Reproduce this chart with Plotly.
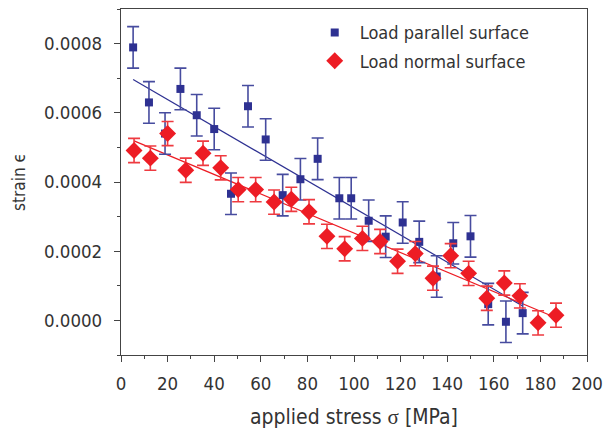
import numpy as np
import plotly.graph_objects as go

# Load parallel surface (blue squares)
par_x = [5.2, 12.0, 18.9, 25.5, 32.5, 40.0, 47.2, 54.5, 62.1, 69.4, 77.0, 84.4,
         93.7, 98.8, 106.3, 113.6, 120.9, 128.0, 135.5, 142.6, 150.0, 157.6, 165.2, 172.4]
par_y = [0.000789, 0.000630, 0.000540, 0.000669, 0.000593, 0.000553, 0.000366, 0.000619,
         0.000523, 0.000362, 0.000408, 0.000467, 0.000353, 0.000353, 0.000288, 0.000242,
         0.000283, 0.000227, 0.000127, 0.000223, 0.000243, 0.000047, -0.000004, 0.000021]
par_err = [0.00006] * len(par_x)

# Load normal surface (red diamonds)
nor_x = [5.6, 12.6, 20.0, 27.8, 35.2, 42.8, 50.3, 57.8, 65.7, 73.1, 80.7, 88.4, 96.0,
         103.6, 111.2, 118.7, 126.3, 133.9, 141.5, 149.2, 157.0, 164.5, 171.2, 179.0, 186.7]
nor_y = [0.000491, 0.000469, 0.000540, 0.000434, 0.000483, 0.000441, 0.000378, 0.000378,
         0.000342, 0.000350, 0.000314, 0.000243, 0.000207, 0.000237, 0.000228, 0.000171,
         0.000193, 0.000122, 0.000187, 0.000136, 0.000064, 0.000108, 0.000071, -0.000007,
         0.000015]
nor_err = [0.000035] * len(nor_x)

x_ticks = [0, 20, 40, 60, 80, 100, 120, 140, 160, 180, 200]
y_ticks = [0.0, 0.0002, 0.0004, 0.0006, 0.0008]
y_tick_labels = ["0.0000", "0.0002", "0.0004", "0.0006", "0.0008"]

BLUE = "#2e3192"
RED = "#ed1c24"
FONT = "Liberation Sans Narrow, DejaVu Sans Condensed, Liberation Sans, Arial"

fig = go.Figure()

# linear fits
for xs, ys, col in [(par_x, par_y, BLUE), (nor_x, nor_y, RED)]:
    k, b = np.polyfit(xs, ys, 1)
    lx = np.array([min(xs), max(xs)])
    fig.add_trace(go.Scatter(x=lx, y=k * lx + b, mode="lines",
                             line=dict(color=col, width=1.2), showlegend=False,
                             hoverinfo="skip"))

fig.add_trace(go.Scatter(
    x=par_x, y=par_y, mode="markers", name="Load parallel surface", legendgroup="a",
    marker=dict(symbol="square", size=8, color=BLUE),
    error_y=dict(type="data", array=par_err, visible=True, color="#474c9f",
                 thickness=1.6, width=6)))

fig.add_trace(go.Scatter(
    x=nor_x, y=nor_y, mode="markers", name="Load normal surface", legendgroup="b",
    marker=dict(symbol="diamond", size=13, color=RED),
    error_y=dict(type="data", array=nor_err, visible=True, color="#ee3a40",
                 thickness=1.6, width=6)))

axis_common = dict(
    showgrid=False, zeroline=False, showline=True, linecolor="#444", linewidth=1.2,
    mirror=True, ticks="outside", ticklen=6, tickcolor="#444", tickwidth=1.2,
    tickfont=dict(family=FONT, size=18.5, color="#333"), automargin=False,
)

fig.update_xaxes(range=[0, 200], tickvals=x_ticks,
                 minor=dict(dtick=10, ticks="outside", ticklen=3, tickcolor="#444"),
                 title=dict(text='applied stress <span style="font-family:Liberation Serif, DejaVu Serif">σ</span> [MPa]',
                            font=dict(family=FONT, size=21, color="#333"), standoff=16),
                 ticklabelstandoff=6,
                 **axis_common)
fig.update_yaxes(range=[-0.0001, 0.0009], tickvals=y_ticks, ticktext=y_tick_labels,
                 minor=dict(dtick=0.0001, tick0=0, ticks="outside", ticklen=3, tickcolor="#444"),
                 title=dict(text="strain ϵ", font=dict(family=FONT, size=17, color="#333"),
                            standoff=14),
                 ticklabelstandoff=8,
                 **axis_common)

fig.update_layout(
    width=604, height=430,
    margin=dict(l=121, r=17, t=9, b=75),
    paper_bgcolor="white", plot_bgcolor="white",
    legend=dict(x=0.405, y=0.985, xanchor="left", yanchor="top",
                font=dict(family=FONT, size=18, color="#333"),
                bgcolor="rgba(0,0,0,0)", itemwidth=40, tracegroupgap=2),
)

fig.write_html("out.html", config={"displayModeBar": False},
               post_script="document.body.style.margin='0';")
